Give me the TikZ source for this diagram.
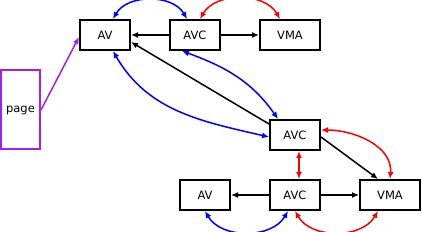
\documentclass[tikz,border=0pt]{standalone}
\usepackage{fontspec}
\setmainfont{DejaVu Sans}
\usetikzlibrary{arrows.meta}
\definecolor{pagepurple}{RGB}{160,32,240}
\tikzset{
  box/.style={draw,line width=2pt,minimum width=50pt,minimum height=30pt,inner sep=0pt,font=\fontsize{11.5}{13}\selectfont},
  link/.style={line width=1.5pt,->},
  dbl/.style={line width=1.5pt,<->},
}
\begin{document}
\begin{tikzpicture}[x=1pt,y=1pt,>={Latex[length=7pt,width=6pt]}]
\useasboundingbox (0,0) rectangle (422,232);
\node[box] (av1) at (105,197) {AV};
\node[box] (avc1) at (195,197) {AVC};
\node[box,minimum width=60pt] (vma1) at (290,197) {VMA};
\node[box,draw=pagepurple,minimum width=39pt,minimum height=79pt] (page) at (20.5,122) {page};
\node[box] (avc2) at (295,97) {AVC};
\node[box] (av2) at (205,37) {AV};
\node[box] (avc3) at (295,37) {AVC};
\node[box,minimum width=60pt] (vma2) at (390,37) {VMA};
\draw[link] (avc1) -- (av1);
\draw[link] (avc1) -- (vma1);
\draw[link] (avc3) -- (av2);
\draw[link] (avc3) -- (vma2);
\draw[link,draw=pagepurple] (page.east) -- ([yshift=-2pt]av1.west);
\draw[link] ([yshift=-5pt]avc2.north west) -- ([yshift=-7pt]av1.east);
\draw[link] ([yshift=-2pt]avc2.east) -- ([xshift=-12pt]vma2.north);
\draw[dbl,blue] ([xshift=8pt]av1.north) to[out=60,in=120] ([xshift=-8pt]avc1.north);
\draw[dbl,red] ([xshift=5pt]avc1.north) to[out=60,in=120] ([xshift=-10pt]vma1.north);
\draw[dbl,blue] ([xshift=8pt]av1.south) to[out=-60,in=167] ([yshift=-2pt]avc2.west);
\draw[dbl,blue] ([xshift=-13pt]avc1.south) to[out=-20,in=125] ([xshift=-17pt]avc2.north);
\draw[dbl,red] ([xshift=4pt]avc2.south) -- ([xshift=4pt]avc3.north);
\draw[dbl,red] ([yshift=5pt]avc2.east) to[out=0,in=85] (vma2.north);
\draw[dbl,blue] (av2.south) to[out=-60,in=-120] ([xshift=-7pt]avc3.south);
\draw[dbl,red] (avc3.south) to[out=-60,in=-120] ([xshift=-12pt]vma2.south);
\end{tikzpicture}
\end{document}
